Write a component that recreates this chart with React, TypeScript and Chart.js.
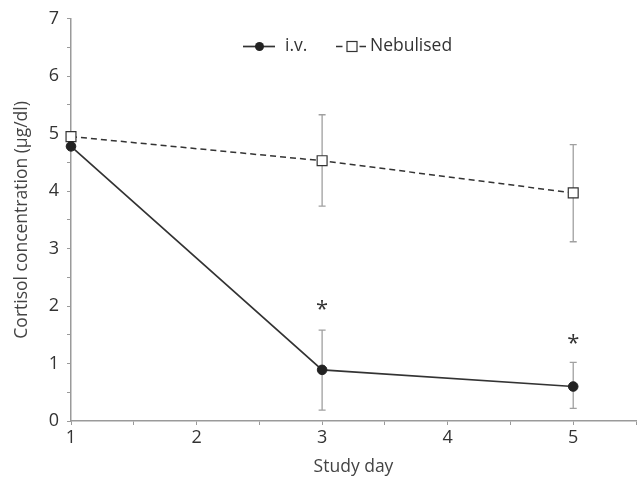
import React, { useEffect, useRef } from "react";
import { Chart, registerables } from "chart.js";

Chart.register(...registerables);

const studyDays = [1, 3, 5];
const ivMean = [4.78, 0.89, 0.6];
const ivLow = [4.78, 0.19, 0.22];
const ivHigh = [4.78, 1.58, 1.02];
const nebMean = [4.95, 4.53, 3.97];
const nebLow = [4.95, 3.74, 3.12];
const nebHigh = [4.95, 5.33, 4.81];
const asteriskDays = [3, 5];
const asteriskValues = [2.0, 1.42];
const legendLabels = ["i.v.", "Nebulised"];

const FONT = "'Open Sans', 'DejaVu Sans', sans-serif";

export default function App() {
  const ref = useRef<HTMLCanvasElement | null>(null);

  useEffect(() => {
    document.body.style.margin = "0";
    const canvas = ref.current;
    if (!canvas) return;

    const errorBars = {
      id: "errorBars",
      beforeDatasetsDraw(chart: any) {
        const ctx = chart.ctx;
        const xs = chart.scales.x;
        const ys = chart.scales.y;
        ctx.save();
        ctx.strokeStyle = "#a0a0a0";
        ctx.lineWidth = 1.3;
        const draw = (lo: number[], hi: number[]) => {
          studyDays.forEach((d, i) => {
            if (hi[i] - lo[i] <= 0.001) return;
            const x = xs.getPixelForValue(d);
            const y1 = ys.getPixelForValue(lo[i]);
            const y2 = ys.getPixelForValue(hi[i]);
            ctx.beginPath();
            ctx.moveTo(x, y1);
            ctx.lineTo(x, y2);
            ctx.moveTo(x - 3.5, y1);
            ctx.lineTo(x + 3.5, y1);
            ctx.moveTo(x - 3.5, y2);
            ctx.lineTo(x + 3.5, y2);
            ctx.stroke();
          });
        };
        draw(ivLow, ivHigh);
        draw(nebLow, nebHigh);
        ctx.restore();
      },
      afterDraw(chart: any) {
        const ctx = chart.ctx;
        const xs = chart.scales.x;
        const ys = chart.scales.y;
        ctx.save();
        // asterisks
        ctx.fillStyle = "#333";
        ctx.font = `22px ${FONT}`;
        ctx.textAlign = "center";
        ctx.textBaseline = "middle";
        asteriskDays.forEach((d, i) => {
          ctx.fillText("*", xs.getPixelForValue(d), ys.getPixelForValue(asteriskValues[i]) + 4);
        });
        // legend
        const ly = 46.5;
        ctx.strokeStyle = "#333";
        ctx.lineWidth = 1.7;
        ctx.setLineDash([]);
        ctx.beginPath();
        ctx.moveTo(243, ly);
        ctx.lineTo(275, ly);
        ctx.stroke();
        ctx.fillStyle = "#222";
        ctx.beginPath();
        ctx.arc(259.5, ly, 4.5, 0, Math.PI * 2);
        ctx.fill();
        ctx.font = `17.5px ${FONT}`;
        ctx.textAlign = "left";
        ctx.fillStyle = "#333";
        ctx.fillText(legendLabels[0], 285, ly);
        ctx.beginPath();
        ctx.moveTo(336, ly);
        ctx.lineTo(342.5, ly);
        ctx.moveTo(359.5, ly);
        ctx.lineTo(366, ly);
        ctx.stroke();
        ctx.fillStyle = "#fff";
        ctx.lineWidth = 1.2;
        ctx.fillRect(347, ly - 5, 10, 10);
        ctx.strokeRect(347, ly - 5, 10, 10);
        ctx.fillStyle = "#333";
        ctx.fillText(legendLabels[1], 370, ly);
        ctx.restore();
      },
    };

    const tickCb = (v: any) => (Math.abs(v - Math.round(v)) < 1e-6 ? String(Math.round(v)) : "");

    const chart = new Chart(canvas, {
      type: "line",
      data: {
        datasets: [
          {
            label: legendLabels[0],
            data: studyDays.map((d, i) => ({ x: d, y: ivMean[i] })),
            borderColor: "#333",
            borderWidth: 1.7,
            pointStyle: "circle",
            pointRadius: 4.8,
            pointBackgroundColor: "#222",
            pointBorderColor: "#222",
            pointBorderWidth: 1,
            clip: false,
          },
          {
            label: legendLabels[1],
            data: studyDays.map((d, i) => ({ x: d, y: nebMean[i] })),
            borderColor: "#333",
            borderWidth: 1.5,
            borderDash: [6, 4],
            pointStyle: "rect",
            pointRadius: 7,
            pointBackgroundColor: "#fff",
            pointBorderColor: "#333",
            pointBorderWidth: 1.2,
            clip: false,
          },
        ],
      } as any,
      options: {
        responsive: false,
        animation: false,
        layout: { autoPadding: false, padding: { top: 16, right: 3, left: 0, bottom: 0 } },
        plugins: { legend: { display: false }, tooltip: { enabled: false } },
        scales: {
          x: {
            type: "linear",
            min: 1,
            max: 5.5,
            afterFit: (s: any) => {
              s.height = 63;
              s.paddingRight = 0;
              s.paddingLeft = 0;
            },
            border: { display: true, color: "#9a9a9a", width: 1.5 },
            grid: { drawOnChartArea: false, drawTicks: true, tickLength: 4, color: "#9a9a9a" },
            ticks: {
              stepSize: 0.5,
              autoSkip: false,
              maxRotation: 0,
              padding: 2,
              color: "#333",
              font: { family: FONT, size: 18 },
              callback: tickCb,
            },
            title: {
              display: true,
              text: "Study day",
              color: "#444",
              font: { family: FONT, size: 17.5 },
              padding: { top: 0, bottom: 6 },
            },
          },
          y: {
            type: "linear",
            min: 0,
            max: 7,
            afterFit: (s: any) => {
              s.width = 71;
            },
            border: { display: true, color: "#9a9a9a", width: 1.5 },
            grid: { drawOnChartArea: false, drawTicks: true, tickLength: 4, color: "#9a9a9a" },
            ticks: {
              stepSize: 0.5,
              autoSkip: false,
              padding: 8,
              color: "#333",
              font: { family: FONT, size: 18 },
              callback: tickCb,
            },
            title: {
              display: true,
              text: "Cortisol concentration (µg/dl)",
              color: "#444",
              font: { family: FONT, size: 17.5 },
              padding: { top: 12, bottom: 0 },
            },
          },
        },
      } as any,
      plugins: [errorBars],
    });

    return () => chart.destroy();
  }, []);

  return <canvas ref={ref} width={639} height={484} style={{ display: "block" }} />;
}
